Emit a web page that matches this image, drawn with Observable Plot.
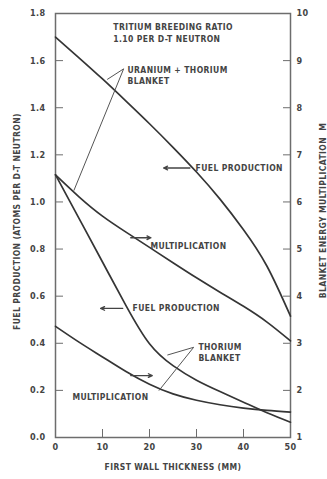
<!DOCTYPE html>
<html>
<head>
<meta charset="utf-8">
<script src="https://cdn.jsdelivr.net/npm/d3@7"></script>
<script src="https://cdn.jsdelivr.net/npm/@observablehq/plot@0.6"></script>
<style>
  html, body { margin: 0; padding: 0; background: #fff; }
  #chart svg { display: block; }
  #chart text { letter-spacing: 0.4px; }
</style>
</head>
<body>
<div id="chart"></div>
<script>
// First wall thickness (mm)
const thickness = [0, 5, 10, 15, 20, 25, 30, 35, 40, 45, 50];
// Uranium + thorium blanket
const fuelUTh = [1.70, 1.612, 1.522, 1.428, 1.332, 1.232, 1.127, 1.012, 0.882, 0.727, 0.515];   // atoms per D-T neutron
const multUTh = [6.575, 6.11, 5.70, 5.36, 5.035, 4.71, 4.39, 4.085, 3.785, 3.45, 3.05];         // blanket energy multiplication M
// Thorium blanket
const fuelTh = [1.115, 0.93, 0.745, 0.56, 0.398, 0.305, 0.243, 0.195, 0.15, 0.105, 0.065];
const multTh = [3.36, 3.025, 2.71, 2.40, 2.13, 1.925, 1.79, 1.695, 1.625, 1.575, 1.54];

// Tick labels
const xTicks = [0, 10, 20, 30, 40, 50];
const fuelTicks = [0, 0.2, 0.4, 0.6, 0.8, 1.0, 1.2, 1.4, 1.6, 1.8];
const mTicks = [1, 2, 3, 4, 5, 6, 7, 8, 9, 10];

// Right axis M shares the left scale: M = 1 + 5 * F
const mToF = m => (m - 1) / 5;

const series = [
  {name: "U+Th fuel", values: fuelUTh.map((v, i) => ({x: thickness[i], y: v}))},
  {name: "U+Th mult", values: multUTh.map((v, i) => ({x: thickness[i], y: mToF(v)}))},
  {name: "Th fuel", values: fuelTh.map((v, i) => ({x: thickness[i], y: v}))},
  {name: "Th mult", values: multTh.map((v, i) => ({x: thickness[i], y: mToF(v)}))}
];

// Annotations (data coordinates)
const notes = [
  {text: "TRITIUM BREEDING RATIO", x: 12.3, y: 1.740},
  {text: "1.10 PER D-T NEUTRON", x: 12.3, y: 1.689},
  {text: "URANIUM + THORIUM", x: 15.3, y: 1.558},
  {text: "BLANKET", x: 15.3, y: 1.511},
  {text: "FUEL PRODUCTION", x: 29.8, y: 1.144},
  {text: "MULTIPLICATION", x: 20.2, y: 0.811},
  {text: "FUEL PRODUCTION", x: 16.4, y: 0.548},
  {text: "THORIUM", x: 30.4, y: 0.382},
  {text: "BLANKET", x: 30.4, y: 0.337},
  {text: "MULTIPLICATION", x: 3.6, y: 0.170}
];
const arrows = [
  {x1: 28.6, x2: 23.0, y: 1.144},
  {x1: 16.0, x2: 20.3, y: 0.848},
  {x1: 14.3, x2: 9.6, y: 0.548},
  {x1: 16.0, x2: 20.6, y: 0.263}
];
const leaders = [
  {x1: 14.5, y1: 1.565, x2: 11.0, y2: 1.52},
  {x1: 14.5, y1: 1.565, x2: 3.9, y2: 1.048},
  {x1: 29.4, y1: 0.383, x2: 23.8, y2: 0.350},
  {x1: 29.4, y1: 0.383, x2: 22.0, y2: 0.199}
];

const FONT = "'DejaVu Sans Condensed', 'Liberation Sans Narrow', 'Roboto Condensed', 'DejaVu Sans', sans-serif";
const ink = "#353535";
const txt = "#444";

const chart = Plot.plot({
  width: 327,
  height: 479,
  marginLeft: 55,
  marginRight: 37,
  marginTop: 13,
  marginBottom: 42,
  style: {fontFamily: FONT, fontSize: "9px", fontWeight: "bold", color: txt, background: "#fff"},
  x: {domain: [0, 50]},
  y: {domain: [0, 1.8]},
  marks: [
    Plot.frame({stroke: "#6d6d6d", strokeWidth: 1.5}),
    // inward tick marks
    Plot.axisY(fuelTicks, {anchor: "left", tickSize: 8, dx: 8, tickFormat: () => "", label: null, stroke: "#6d6d6d"}),
    Plot.axisY(mTicks.map(mToF), {anchor: "right", tickSize: 8, dx: -8, tickFormat: () => "", label: null, stroke: "#6d6d6d"}),
    Plot.axisX(xTicks, {anchor: "bottom", tickSize: 8, dy: -8, tickFormat: () => "", label: null, stroke: "#6d6d6d"}),
    // tick labels
    Plot.axisY(fuelTicks, {anchor: "left", tickSize: 0, tickPadding: 10, tickFormat: d => d.toFixed(1), label: null, fill: txt}),
    Plot.axisY(mTicks.map(mToF), {anchor: "right", tickSize: 0, tickPadding: 6, tickFormat: d => String(Math.round(d * 5 + 1)), label: null, fill: txt}),
    Plot.axisX(xTicks, {anchor: "bottom", tickSize: 0, tickPadding: 6, label: null, fill: txt}),
    // axis titles
    Plot.text(["FUEL PRODUCTION (ATOMS PER D-T NEUTRON)"], {frameAnchor: "left", textAnchor: "middle", dx: -38, dy: -4, rotate: -90, fontSize: 8.5, fill: txt}),
    Plot.text(["BLANKET ENERGY MULTIPLICATION  M"], {frameAnchor: "right", textAnchor: "middle", dx: 33, dy: -15, rotate: -90, fontSize: 8.5, fill: txt}),
    Plot.text(["FIRST WALL THICKNESS (MM)"], {frameAnchor: "bottom", textAnchor: "middle", dy: 32, fontSize: 8.5, fill: txt}),
    // curves
    ...series.map(s => Plot.line(s.values, {x: "x", y: "y", stroke: ink, strokeWidth: 1.7, curve: "natural"})),
    // leader lines, arrows, labels
    Plot.link(leaders, {x1: "x1", y1: "y1", x2: "x2", y2: "y2", stroke: "#555", strokeWidth: 1}),
    Plot.arrow(arrows, {x1: "x1", x2: "x2", y1: "y", y2: "y", stroke: "#444", strokeWidth: 1.3, headLength: 5, headAngle: 50}),
    Plot.text(notes, {x: "x", y: "y", text: "text", textAnchor: "start", fontSize: 8.5, fill: txt})
  ]
});
document.getElementById("chart").appendChild(chart);
</script>
</body>
</html>
